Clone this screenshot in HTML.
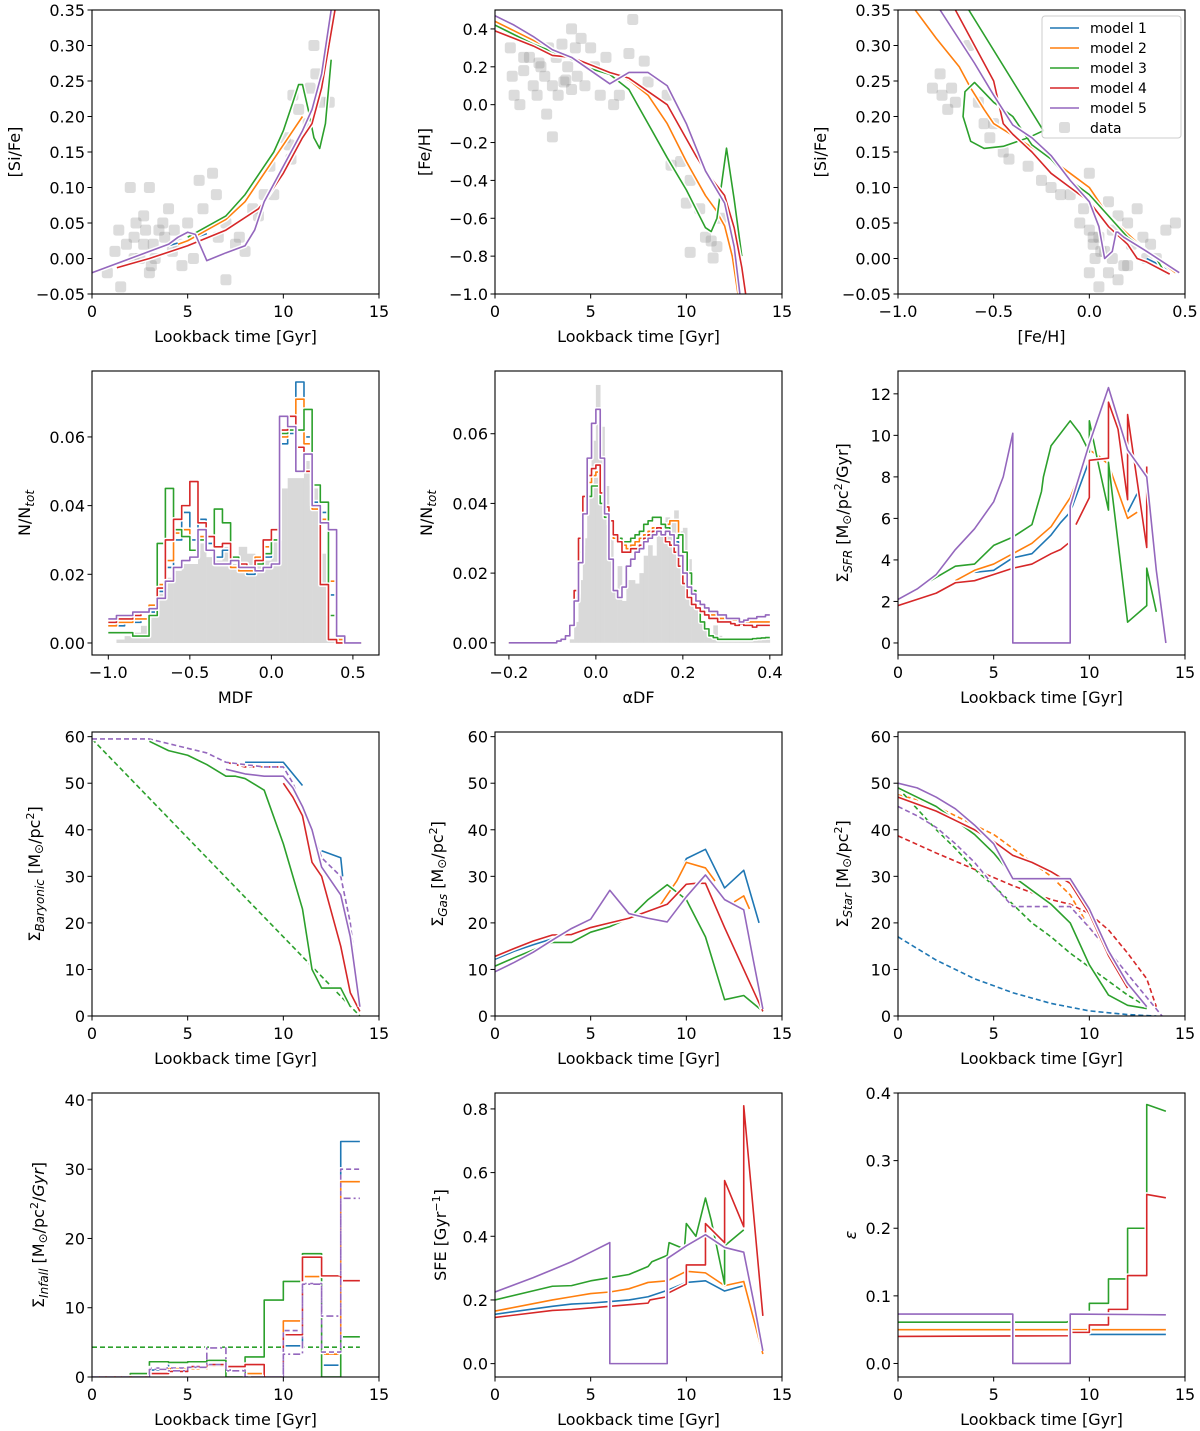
<!DOCTYPE html>
<html><head><meta charset="utf-8"><style>
html,body{margin:0;padding:0;background:#fff;}
svg{display:block;font-family:"DejaVu Sans","Liberation Sans",sans-serif;}
</style></head><body>
<svg id="fig" xmlns="http://www.w3.org/2000/svg" width="1200" height="1431" viewBox="0 0 1200 1431"></svg>
<script>
// ---------- DATA ----------
const modelNames=['model 1','model 2','model 3','model 4','model 5'];
const modelColors=['#1f77b4','#ff7f0e','#2ca02c','#d62728','#9467bd'];
// Panel 1: [Si/Fe] vs lookback time
const p1DataAge=[1.5,0.8,1.2,1.4,1.8,2,2.3,2.2,2.5,2.7,2.8,3,3.0,3.2,3.3,3.5,3.7,3.8,4,4.2,4.5,4.7,5,5.3,5.6,5.8,6.3,6.5,6.6,7,7,7.5,7.7,8,8.4,8.7,9,9.3,9.5,10.1,10.3,10.5,10.8,11.3,11.4,11.6,11.7,12,12.4,10.4,2.7,3.1,2.2,4.3];
const p1DataSiFe=[-0.04,-0.02,0.01,0.04,0.02,0.1,0.05,0.03,0.0,0.06,0.04,0.1,-0.02,0.02,0.0,0.04,0.05,0.03,0.07,0.01,0.02,-0.01,0.05,0.0,0.11,0.07,0.12,0.09,0.03,0.05,-0.03,0.02,0.03,0.01,0.07,0.06,0.09,0.13,0.09,0.17,0.16,0.23,0.21,0.19,0.24,0.30,0.26,0.22,0.22,0.14,0.02,-0.01,0.0,0.04];
const p1T=[[4,5,6],[4.5,5,6,7,8,9,10,11],[5,6,7,8,9,9.5,10,10.5,10.8,11,11.3,11.6,11.9,12.2,12.5],[1.3,3,5,7,8.7,9,10,11,11.5,12,12.7],[0,1,2,3,4,4.5,5,5.4,6,7,8,8.5,9,10,11,11.5,12,12.5]];
const p1Y=[[0.018,0.026,0.035],[0.02,0.025,0.04,0.055,0.08,0.12,0.16,0.2],[0.03,0.045,0.06,0.09,0.13,0.15,0.18,0.22,0.245,0.245,0.21,0.17,0.155,0.19,0.28],[-0.013,0.0,0.018,0.04,0.07,0.08,0.12,0.17,0.19,0.24,0.35],[-0.02,-0.01,0.0,0.01,0.02,0.03,0.037,0.034,-0.003,0.008,0.018,0.04,0.08,0.13,0.18,0.21,0.26,0.35]];
// Panel 2: [Fe/H] vs lookback time
const p2DataAge=[0.8,0.9,1,1.3,1.5,1.8,2,2.2,2.4,2.6,2.8,3,3,2.7,3.2,3.3,3.5,3.6,3.8,4,4.2,4.3,4.5,4.7,5,5.2,5.5,5.8,6.2,6.5,7,7.2,7.8,8,9,9.2,9.7,10.2,10,10.7,11,11.3,11.6,11.4,10.2,11.8,1.5,3.7,4,2.3];
const p2DataFeH=[0.3,0.15,0.05,0.0,0.18,0.25,0.1,0.05,0.2,0.15,0.3,0.1,-0.17,-0.05,0.25,0.05,0.32,0.12,0.2,0.08,0.3,0.15,0.35,0.1,0.3,0.2,0.05,0.25,0.0,0.05,0.27,0.45,0.23,0.12,0.05,-0.32,-0.3,-0.4,-0.52,-0.55,-0.7,-0.72,-0.75,-0.81,-0.78,-0.6,0.25,0.13,0.4,0.22];
const p2T=[[0,3,6],[0,1,2,3,4,5,6,7,8,9,10,11,11.5,12,12.4,12.7],[0,1,2,3,4,5,6,7,8,9,10,10.5,11,11.3,11.6,11.8,12.1,12.5,12.9],[0,1,2,3,4,5,6,7,8,9,10,10.5,11,12,12.5,12.9,13.1],[0,1,2,3,4,5,6,7,8,9,10,11,12,12.5,12.8]];
const p2Y=[[0.43,0.28,0.16],[0.44,0.39,0.34,0.29,0.25,0.2,0.17,0.13,0.05,-0.1,-0.3,-0.48,-0.55,-0.64,-0.8,-1.0],[0.42,0.37,0.32,0.28,0.24,0.19,0.16,0.08,-0.1,-0.28,-0.45,-0.55,-0.65,-0.67,-0.6,-0.45,-0.23,-0.5,-0.8],[0.39,0.35,0.31,0.26,0.25,0.21,0.17,0.14,0.07,0.0,-0.18,-0.27,-0.35,-0.48,-0.65,-0.86,-1.0],[0.47,0.42,0.36,0.29,0.25,0.18,0.11,0.17,0.17,0.1,-0.1,-0.35,-0.52,-0.75,-1.0]];
// Panel 3: [Si/Fe] vs [Fe/H]
const p3DataFeH=[-0.82,-0.78,-0.77,-0.74,-0.72,-0.7,-0.63,-0.58,-0.55,-0.52,-0.5,-0.45,-0.42,-0.32,-0.25,-0.2,-0.15,-0.1,0.0,-0.03,-0.05,0.0,0.02,0.05,0.03,0.08,0.1,0.05,0.12,0.15,0.2,0.25,0.22,0.18,0.28,0.3,0.32,0.35,0.4,0.45,0.1,0.15,0.02,0.06,0.12,0.0,0.2];
const p3DataSiFe=[0.24,0.26,0.23,0.21,0.24,0.22,0.3,0.22,0.19,0.17,0.19,0.15,0.14,0.13,0.11,0.10,0.09,0.09,0.12,0.07,0.05,0.04,0.02,0.03,0.0,0.01,-0.02,-0.04,0.04,0.06,0.05,0.07,0.02,-0.01,0.03,0.0,0.02,0.0,0.04,0.05,0.08,-0.03,0.03,0.01,0.0,-0.02,-0.01];
const p3X=[[0.3,0.45],[-0.91,-0.8,-0.68,-0.62,-0.55,-0.5,-0.2,-0.1,0.0,0.1,0.2,0.3,0.45],[-0.63,-0.24,-0.32,-0.45,-0.55,-0.62,-0.66,-0.65,-0.6,-0.5,-0.4,-0.3,-0.2,-0.1,0.0,0.1,0.2,0.35,0.4],[-0.7,-0.6,-0.5,-0.45,-0.4,-0.3,-0.2,-0.1,0.0,0.1,0.2,0.25,0.3,0.42],[-0.78,-0.6,-0.5,-0.4,-0.3,-0.2,-0.1,0.0,0.05,0.08,0.12,0.14,0.15,0.18,0.3,0.47]];
const p3Y=[[0.0,-0.02],[0.35,0.31,0.27,0.24,0.21,0.19,0.14,0.12,0.1,0.06,0.035,0.01,-0.02],[0.35,0.18,0.17,0.158,0.155,0.165,0.2,0.235,0.248,0.22,0.2,0.16,0.14,0.11,0.09,0.06,0.03,0.0,-0.022],[0.35,0.3,0.25,0.19,0.175,0.15,0.12,0.1,0.08,0.045,0.02,0.0,-0.005,-0.022],[0.35,0.275,0.23,0.188,0.17,0.145,0.11,0.08,0.045,0.0,0.01,0.037,0.037,0.03,0.01,-0.02]];
// Panel 4: MDF histograms (bins of 0.05 starting at -1.0)
const mdfStart=-1.0, mdfWidth=0.05;
const mdfData=[0,0.001,0.002,0.003,0.005,0.011,0.016,0.019,0.021,0.023,0.023,0.029,0.025,0.024,0.028,0.023,0.028,0.026,0.025,0.024,0.030,0.045,0.048,0.048,0.053,0.045,0.026,0.001,0,0,0];
const mdfModels=[
[0.005,0.005,0.006,0.006,0.007,0.009,0.015,0.022,0.030,0.038,0.030,0.036,0.029,0.025,0.027,0.022,0.021,0.020,0.023,0.025,0.030,0.058,0.061,0.076,0.060,0.041,0.038,0.014,0.001,0,0],
[0.005,0.006,0.006,0.007,0.007,0.011,0.017,0.024,0.032,0.033,0.027,0.031,0.027,0.023,0.023,0.022,0.021,0.021,0.025,0.028,0.033,0.060,0.063,0.071,0.058,0.039,0.036,0.018,0.001,0,0],
[0.003,0.003,0.003,0.002,0.002,0.008,0.029,0.045,0.033,0.031,0.027,0.030,0.031,0.039,0.035,0.025,0.023,0.022,0.023,0.026,0.030,0.061,0.062,0.062,0.068,0.046,0.041,0.008,0.002,0,0],
[0.006,0.007,0.007,0.008,0.009,0.010,0.016,0.030,0.036,0.040,0.047,0.035,0.031,0.028,0.029,0.024,0.023,0.022,0.024,0.030,0.033,0.062,0.066,0.057,0.050,0.040,0.017,0.001,0,0,0],
[0.007,0.008,0.008,0.009,0.009,0.010,0.013,0.018,0.022,0.024,0.025,0.033,0.027,0.023,0.023,0.024,0.022,0.022,0.021,0.022,0.023,0.066,0.063,0.050,0.055,0.040,0.035,0.033,0.002,0,0]];
// Panel 5: alpha DF histograms (bins of 0.01 starting at -0.2)
const adfStart=-0.2, adfWidth=0.01;
const adfData=[0,0,0,0,0,0,0,0,0,0, 0,0,0,0,0.001,0.006,0.018,0.030,0.045,0.058,0.074,0.062,0.045,0.030,0.015,0.022,0.012,0.018,0.018,0.017,0.020,0.025,0.028,0.025,0.033,0.034,0.036,0.035,0.038,0.032,0.033,0.024,0.015,0.010,0.006,0.004,0.002,0.005,0.002,0.001,0.001,0.001,0.001,0.001,0.001,0.001,0.001,0.001,0.001,0.001];
const adfModels=[
[0,0,0,0,0,0,0,0,0,0, 0,0.0005,0.001,0.002,0.005,0.014,0.028,0.040,0.046,0.048,0.048,0.042,0.038,0.034,0.030,0.029,0.028,0.027,0.027,0.028,0.029,0.030,0.031,0.031,0.032,0.033,0.033,0.031,0.029,0.025,0.020,0.015,0.012,0.010,0.009,0.008,0.007,0.007,0.006,0.006,0.006,0.0055,0.0055,0.005,0.005,0.005,0.005,0.005,0.005,0.005],
[0,0,0,0,0,0,0,0,0,0, 0,0.0005,0.001,0.002,0.005,0.014,0.028,0.040,0.046,0.048,0.049,0.042,0.039,0.035,0.030,0.029,0.028,0.027,0.028,0.029,0.030,0.031,0.032,0.033,0.033,0.034,0.034,0.035,0.035,0.030,0.024,0.018,0.014,0.012,0.010,0.009,0.008,0.008,0.007,0.007,0.007,0.0065,0.0065,0.006,0.006,0.006,0.006,0.006,0.006,0.006],
[0,0,0,0,0,0,0,0,0,0, 0,0.0005,0.001,0.002,0.005,0.013,0.026,0.037,0.042,0.045,0.045,0.040,0.036,0.034,0.031,0.030,0.029,0.029,0.030,0.031,0.032,0.034,0.035,0.036,0.036,0.034,0.033,0.031,0.030,0.031,0.026,0.020,0.015,0.011,0.006,0.004,0.002,0.0015,0.001,0.001,0.001,0.001,0.001,0.001,0.001,0.001,0.0012,0.0013,0.0014,0.0015],
[0,0,0,0,0,0,0,0,0,0, 0,0.0005,0.001,0.002,0.005,0.015,0.030,0.042,0.048,0.050,0.051,0.043,0.039,0.035,0.031,0.029,0.026,0.026,0.027,0.027,0.028,0.030,0.031,0.032,0.033,0.031,0.029,0.028,0.026,0.022,0.017,0.013,0.011,0.010,0.009,0.008,0.007,0.007,0.006,0.006,0.006,0.0055,0.005,0.0055,0.005,0.005,0.0045,0.005,0.005,0.005],
[0,0,0,0,0,0,0,0,0,0, 0,0.0005,0.001,0.002,0.005,0.012,0.023,0.037,0.053,0.063,0.067,0.053,0.037,0.024,0.015,0.013,0.016,0.022,0.024,0.026,0.027,0.029,0.030,0.031,0.032,0.031,0.032,0.031,0.028,0.025,0.020,0.016,0.014,0.012,0.011,0.010,0.009,0.009,0.008,0.008,0.007,0.007,0.007,0.006,0.0065,0.007,0.007,0.0075,0.0075,0.008]];
// Panel 6: SFR (null = gap)
const p6T=[[4,5,6,7,8,8.5,9,10,11,null,12,12.5],[3,4,5,6,7,8,8.5,9,10,10.5,11,12,12.5],[1.7,3,4,5,6,7,7.5,7.6,8,9,9.5,10,10,10.5,11,11,12,13,13,13.5],[0,1,2,3,4,5,6,7,8,8.5,8.9,null,9.3,10,10,11,11,11.5,12,12,13,13],[0,1,2,3,4,5,5.5,6,6,9,9,10,11,12,13,13.5,14]];
const p6Y=[[3.4,3.5,4.1,4.3,5.2,5.8,6.3,8.8,8.8,null,6.3,7.2],[3.0,3.5,3.8,4.3,4.8,5.6,6.3,7.0,9.3,9.0,8.6,6.0,6.3],[3.0,3.7,3.8,4.7,5.1,5.7,7.3,8.0,9.5,10.7,10.1,9.2,10.7,8.5,6.4,8.7,1.0,1.8,3.6,1.5],[1.8,2.1,2.4,2.9,3.0,3.3,3.6,3.8,4.3,4.5,4.8,null,5.7,7,8.8,8.9,11.6,10.3,6.9,11,4.6,8.5],[2.1,2.6,3.3,4.5,5.5,6.8,8.0,10.1,0,0,6.6,9.6,12.3,9.3,8.0,3.5,0]];
// Panel 7: baryonic
const p7Solid=[{m:0,t:[8,9,10,10.5,11,null,12,13,13.1],y:[54.5,54.5,54.5,52,49.5,null,35.5,34,30]},{m:2,t:[3,4,5,6,7,7.5,8,9,10,11,11.5,12,13,13.5],y:[59,57,56,54,51.5,51.5,51,48.5,37,23,10,6,6,2]},{m:3,t:[10,10.5,11,11.5,12,13,13.5,14],y:[50,47,43,33,30,15,5,1]},{m:4,t:[7,7.5,8,9,10,10.5,11,11.5,12,13,13.5,14],y:[53,52.5,52,51.5,51.5,49,45,40,32,26,17,2]}];
const p7Dashed=[{m:2,t:[0,14],y:[59.5,0]},{m:3,t:[7,8,9,10],y:[54.5,53.5,53.5,53.5]},{m:1,t:[8.6,9.1,null,12,12.4],y:[53.5,53.5,null,32,30]},{m:4,t:[0,1,2,3,4,5,6,7,8,9,10,10.5,11,11.5,12,13,13.5,14],y:[59.5,59.5,59.5,59.5,58.5,57.5,56.5,54.5,54,53.5,53.5,50,45,40,34,30,20,2]}];
// Panel 8: gas
const p8T=[[0,1,2,3,null,9.7,10,11,12,13,13.8],[8.5,9,9.5,10,11,11.5,null,12.5,13,13.3],[0,1,2,3,4,5,6,7,8,9,10,11,12,13,14],[0,1,2,3,4,5,6,7,8,9,10,10.5,11,12,13,14],[0,1,2,3,4,5,6,7,8,9,10,11,12,13,13.5,14]];
const p8Y=[[12.2,13.9,15.3,16.6,null,31,33.8,35.8,27.5,31.3,20],[23,26,29,33,31.8,29,null,24.5,25.8,23],[10.7,12.5,14.2,15.8,15.8,18,19.2,21,25,28.2,25,17,3.5,4.4,1],[12.8,14.5,16.1,17.4,17.5,19,20,21,22.5,24,28.3,28.5,28.5,19,10,1],[9.5,11.5,13.7,16.3,18.8,20.8,27,22,21,20.2,25.6,30.3,25,22.8,12,1.5]];
// Panel 9: stars
const p9Solid=[{m:2,t:[0,1,2,3,4,5,6,7,8,9,10,11,12,13],y:[49,47,45,42,39,35,30,27,24,20,11,4.5,2.3,1.6]},{m:3,t:[0,1,2,3,4,5,6,7,8,9,10,11,12],y:[47,45.5,44,42,40,37.5,34.5,33,31,28.5,22,13,6]},{m:4,t:[0,1,2,3,4,5,6,7,8,9,10,11,12,13],y:[50,49,47,44.5,41,37,29.5,29.5,29.5,29.5,23,14,7,2]}];
const p9Dashed=[{m:0,t:[0,2,4,6,8,10,12,13.5],y:[17,12,8,5,2.7,1.1,0.3,0]},{m:1,t:[0,1,2,3,4,5,6,7,8,9,10,11],y:[47.5,46.5,45,43,41,39,36,33,30,26,19,14]},{m:2,t:[0,1,2,3,4,5,6,7,8,9,10,11,12,13],y:[49,44.5,40,36,31.5,28,24,20,17,13.5,10.5,7.5,4.5,2]},{m:3,t:[0,2,4,6,8,9,10,11,12,13,13.5],y:[38.7,35,31.5,28,25,24,22,18.5,13.5,8,2]},{m:4,t:[0,1,2,3,4,5,6,7,8,9,10,11,12,13,13.8],y:[45,43,40.5,37,33,28,23.5,23.5,23.5,23.5,19,14,9,4,0]}];
// Panel 10: infall (1-Gyr bins from 0 to 14)
const infallConst=4.3;
const infallModels=[[0,0,0,1.0,2.1,1.3,1.5,1.2,0.6,0,4.5,14.5,1.7,34],[0,0,0,0.5,1.2,1.2,1.6,1.4,0.5,0,8.1,14.5,3.3,28.2],[0,0,0.5,2.2,2.1,2.2,2.4,0,2.9,11.1,13.8,17.8,0,5.8],[0,0,0,0.5,0.8,1.5,1.8,1.5,1.8,0,6.1,17.3,14.6,13.9],[0,0,0,1.3,1.3,1.5,1.8,1.0,0,0,6.7,13.5,3.6,30]];
const infallAlt=[0,0,0,1.1,0.9,1.4,4.2,0.9,0,0,3.3,13.4,8.8,25.8];
// Panel 11: SFE
const p11T=[[0,3,4,5,6,7,8,9,10,11,12,13],[0,3,4,5,6,7,8,9,10,11,12,13,14],[0,3,4,5,6,7,8,8.2,9,9.1,9.9,10,10.5,11,11.3,12,12,13],[0,3,4,5,6,7,8,8.1,9,9,10,10,11,11,12,12,13,13,14],[0,2,3,4,5,6,6,9,9,10,11,12,13,13.5,14]];
const p11Y=[[0.155,0.18,0.187,0.19,0.195,0.2,0.21,0.23,0.255,0.26,0.228,0.245],[0.165,0.2,0.21,0.22,0.225,0.235,0.255,0.26,0.29,0.285,0.245,0.258,0.03],[0.2,0.243,0.245,0.26,0.27,0.28,0.305,0.32,0.34,0.38,0.36,0.44,0.4,0.52,0.45,0.25,0.37,0.42],[0.145,0.167,0.17,0.175,0.18,0.185,0.19,0.2,0.21,0.22,0.25,0.31,0.31,0.44,0.38,0.575,0.43,0.81,0.15],[0.225,0.27,0.295,0.32,0.35,0.38,0,0,0.33,0.37,0.405,0.365,0.35,0.2,0.04]];
// Panel 12: epsilon
const p12T=[[10,14],[0,14],[0,8.8,9,null,10,10,11,11,12,12,13,13,14],[0,9,9,10,10,11,11,12,12,13,13,14],[0,6,6,9,9,14]];
const p12Y=[[0.043,0.043],[0.05,0.05],[0.061,0.061,0.063,null,0.078,0.089,0.089,0.125,0.125,0.2,0.2,0.383,0.373],[0.04,0.041,0.046,0.046,0.057,0.057,0.08,0.08,0.13,0.13,0.25,0.245],[0.073,0.073,0,0,0.073,0.072]];

// ---------- DRAWING ----------
const NS='http://www.w3.org/2000/svg';
const svg=document.getElementById('fig');
function el(tag,parent,name){
  const e=document.createElementNS(NS,tag);
  
  
  parent.appendChild(e);
  return e;
}
const W=287,H=284;
let clipN=0;
function panel(name,L,T,xlim,ylim,xt,xtl,yt,ytl,xlabel,ylabelParts,ylx){
  const g=el('g',svg,name);
  const sx=v=>L+(v-xlim[0])/(xlim[1]-xlim[0])*W;
  const sy=v=>T+H-(v-ylim[0])/(ylim[1]-ylim[0])*H;
  const cid='clip'+(clipN++);
  const cp=el('clipPath',g,name+'-clip'); cp.setAttribute('id',cid);
  const cr=el('rect',cp,name+'-clip-rect'); cr.setAttribute('x',L);cr.setAttribute('y',T);cr.setAttribute('width',W);cr.setAttribute('height',H);
  const plot=el('g',g,name+'-plot-area'); plot.setAttribute('clip-path','url(#'+cid+')');
  const axes=el('g',g,name+'-axes');
  const frame=el('rect',axes,name+'-frame');
  frame.setAttribute('x',L);frame.setAttribute('y',T);frame.setAttribute('width',W);frame.setAttribute('height',H);
  frame.setAttribute('fill','none');frame.setAttribute('stroke','#000');frame.setAttribute('stroke-width','1.1');
  xt.forEach((v,i)=>{
    const x=sx(v);
    const tk=el('line',axes,'x-tick');
    tk.setAttribute('x1',x);tk.setAttribute('x2',x);tk.setAttribute('y1',T+H);tk.setAttribute('y2',T+H+4.5);tk.setAttribute('stroke','#000');
    const tx=el('text',axes,'x-tick-label');
    tx.setAttribute('x',x);tx.setAttribute('y',T+H+23);tx.setAttribute('text-anchor','middle');tx.setAttribute('font-size','16');
    tx.textContent=xtl[i];
  });
  yt.forEach((v,i)=>{
    const y=sy(v);
    const tk=el('line',axes,'y-tick');
    tk.setAttribute('x1',L-4.5);tk.setAttribute('x2',L);tk.setAttribute('y1',y);tk.setAttribute('y2',y);tk.setAttribute('stroke','#000');
    const tx=el('text',axes,'y-tick-label');
    tx.setAttribute('x',L-7);tx.setAttribute('y',y+6);tx.setAttribute('text-anchor','end');tx.setAttribute('font-size','16');
    tx.textContent=ytl[i];
  });
  const xl=el('text',axes,'x-axis-title');
  xl.setAttribute('x',L+W/2);xl.setAttribute('y',T+H+48);xl.setAttribute('text-anchor','middle');xl.setAttribute('font-size','16');
  xl.textContent=xlabel;
  const yl=el('text',axes,'y-axis-title');
  const cy=T+H/2;
  yl.setAttribute('transform','translate('+ylx+','+cy+') rotate(-90)');
  yl.setAttribute('text-anchor','middle');yl.setAttribute('font-size','16');
  ylabelParts.forEach(p=>{
    const ts=el('tspan',yl,'y-axis-title-part');
    if(p.s) ts.setAttribute('font-size',p.s);
    if(p.dy) ts.setAttribute('dy',p.dy);
    if(p.i) ts.setAttribute('font-style','italic');
    ts.textContent=p.t;
  });
  return {plot,sx,sy};
}
function pathD(P,xs,ys){
  let d='',pen=false;
  for(let i=0;i<xs.length;i++){
    if(xs[i]===null||ys[i]===null){pen=false;continue;}
    d+=(pen?'L':'M')+P.sx(xs[i]).toFixed(2)+','+P.sy(ys[i]).toFixed(2);
    pen=true;
  }
  return d;
}
function line(P,xs,ys,color,dash,name){
  const d=pathD(P,xs,ys);
  const h=el('path',P.plot,name+'-halo');
  h.setAttribute('d',d);h.setAttribute('fill','none');h.setAttribute('stroke','#fff');h.setAttribute('stroke-width','4.5');h.setAttribute('stroke-linejoin','round');
  if(dash) h.setAttribute('stroke-dasharray',dash);
  const p=el('path',P.plot,name);
  p.setAttribute('d',d);p.setAttribute('fill','none');p.setAttribute('stroke',color);p.setAttribute('stroke-width','1.6');p.setAttribute('stroke-linejoin','round');
  if(dash) p.setAttribute('stroke-dasharray',dash);
}
function stepLine(P,start,width,vals,color,dash,name){
  const xs=[],ys=[];
  vals.forEach((v,i)=>{xs.push(start+i*width);ys.push(v);xs.push(start+(i+1)*width);ys.push(v);});
  line(P,xs,ys,color,dash,name);
}
function histFill(P,start,width,vals,name){
  vals.forEach((v,i)=>{
    if(v<=0) return;
    const r=el('rect',P.plot,name);
    const x0=P.sx(start+i*width),x1=P.sx(start+(i+1)*width);
    r.setAttribute('x',x0);r.setAttribute('width',x1-x0+0.3);r.setAttribute('y',P.sy(v));r.setAttribute('height',P.sy(0)-P.sy(v));
    r.setAttribute('fill','#d9d9d9');
  });
}
function scatter(P,xs,ys,name){
  xs.forEach((x,i)=>{
    const r=el('rect',P.plot,name);
    r.setAttribute('x',P.sx(x)-5.5);r.setAttribute('y',P.sy(ys[i])-5.5);r.setAttribute('width',11);r.setAttribute('height',11);r.setAttribute('rx',2.5);
    r.setAttribute('fill','#8a8a8a');r.setAttribute('fill-opacity','0.3');
  });
}
const cols=[92,495,898], rows=[10,371,732,1093];
const tT=[0,5,10,15], tTL=['0','5','10','15'];
const LB='Lookback time [Gyr]';
const sub=(t)=>({t:t,s:'12',dy:'4',i:true});
// Panel 1
let P=panel('panel-sife-vs-time',cols[0],rows[0],[0,15],[-0.05,0.35],tT,tTL,[-0.05,0,0.05,0.1,0.15,0.2,0.25,0.3,0.35],['−0.05','0.00','0.05','0.10','0.15','0.20','0.25','0.30','0.35'],LB,[{t:'[Si/Fe]'}],20);
scatter(P,p1DataAge,p1DataSiFe,'data-point');
p1T.forEach((t,m)=>line(P,t,p1Y[m],modelColors[m],null,'model-'+(m+1)+'-line'));
// Panel 2
P=panel('panel-feh-vs-time',cols[1],rows[0],[0,15],[-1.0,0.5],tT,tTL,[-1,-0.8,-0.6,-0.4,-0.2,0,0.2,0.4],['−1.0','−0.8','−0.6','−0.4','−0.2','0.0','0.2','0.4'],LB,[{t:'[Fe/H]'}],430);
scatter(P,p2DataAge,p2DataFeH,'data-point');
p2T.forEach((t,m)=>line(P,t,p2Y[m],modelColors[m],null,'model-'+(m+1)+'-line'));
// Panel 3
P=panel('panel-sife-vs-feh',cols[2],rows[0],[-1,0.5],[-0.05,0.35],[-1,-0.5,0,0.5],['−1.0','−0.5','0.0','0.5'],[-0.05,0,0.05,0.1,0.15,0.2,0.25,0.3,0.35],['−0.05','0.00','0.05','0.10','0.15','0.20','0.25','0.30','0.35'],'[Fe/H]',[{t:'[Si/Fe]'}],826);
scatter(P,p3DataFeH,p3DataSiFe,'data-point');
p3X.forEach((x,m)=>line(P,x,p3Y[m],modelColors[m],null,'model-'+(m+1)+'-line'));
// legend
const lg=el('g',svg,'legend');
const lb=el('rect',lg,'legend-box');
lb.setAttribute('x',1042);lb.setAttribute('y',16);lb.setAttribute('width',139);lb.setAttribute('height',122);lb.setAttribute('rx',3);
lb.setAttribute('fill','#fff');lb.setAttribute('fill-opacity','0.85');lb.setAttribute('stroke','#ccc');
modelNames.forEach((n,i)=>{
  const y=28+i*20;
  const ln=el('line',lg,'legend-entry-line');
  ln.setAttribute('x1',1050);ln.setAttribute('x2',1079);ln.setAttribute('y1',y);ln.setAttribute('y2',y);ln.setAttribute('stroke',modelColors[i]);ln.setAttribute('stroke-width','1.6');
  const tx=el('text',lg,'legend-entry-label');
  tx.setAttribute('x',1090);tx.setAttribute('y',y+5);tx.setAttribute('font-size','14');
  tx.textContent=n;
});
const ld=el('rect',lg,'legend-data-marker');
ld.setAttribute('x',1059);ld.setAttribute('y',122);ld.setAttribute('width',11);ld.setAttribute('height',11);ld.setAttribute('rx',2.5);ld.setAttribute('fill','#8a8a8a');ld.setAttribute('fill-opacity','0.3');
const ldt=el('text',lg,'legend-entry-label');
ldt.setAttribute('x',1090);ldt.setAttribute('y',133);ldt.setAttribute('font-size','14');ldt.textContent='data';
// Panel 4: MDF
P=panel('panel-mdf',cols[0],rows[1],[-1.1,0.66],[-0.0035,0.0792],[-1,-0.5,0,0.5],['−1.0','−0.5','0.0','0.5'],[0,0.02,0.04,0.06],['0.00','0.02','0.04','0.06'],'MDF',[{t:'N/N'},{t:'tot',s:'12',dy:'4',i:true}],30);
histFill(P,mdfStart,mdfWidth,mdfData,'data-histogram-bar');
mdfModels.forEach((v,m)=>stepLine(P,mdfStart,mdfWidth,v,modelColors[m],null,'model-'+(m+1)+'-mdf'));
// Panel 5: alpha DF
P=panel('panel-alpha-df',cols[1],rows[1],[-0.232,0.428],[-0.0035,0.078],[-0.2,0,0.2,0.4],['−0.2','0.0','0.2','0.4'],[0,0.02,0.04,0.06],['0.00','0.02','0.04','0.06'],'αDF',[{t:'N/N'},{t:'tot',s:'12',dy:'4',i:true}],432);
histFill(P,adfStart,adfWidth,adfData,'data-histogram-bar');
adfModels.forEach((v,m)=>stepLine(P,adfStart,adfWidth,v,modelColors[m],null,'model-'+(m+1)+'-adf'));
// Panel 6: SFR
P=panel('panel-sfr',cols[2],rows[1],[0,15],[-0.58,13.1],tT,tTL,[0,2,4,6,8,10,12],['0','2','4','6','8','10','12'],LB,[{t:'Σ'},sub('SFR'),{t:' [M',dy:'-4'},{t:'⊙',s:'12',dy:'3'},{t:'/pc',dy:'-3'},{t:'2',s:'11',dy:'-6'},{t:'/Gyr]',dy:'6'}],848);
p6T.forEach((t,m)=>line(P,t,p6Y[m],modelColors[m],null,'model-'+(m+1)+'-sfr'));
// Panel 7: baryonic
const msun=(s)=>[{t:'Σ'},sub(s),{t:' [M',dy:'-4'},{t:'⊙',s:'12',dy:'3'},{t:'/pc',dy:'-3'},{t:'2',s:'11',dy:'-6'},{t:']',dy:'6'}];
const y60=[0,10,20,30,40,50,60], y60l=['0','10','20','30','40','50','60'];
P=panel('panel-baryonic',cols[0],rows[2],[0,15],[0,61],tT,tTL,y60,y60l,LB,msun('Baryonic'),40);
p7Dashed.forEach(s=>line(P,s.t,s.y,modelColors[s.m],'5,3','model-'+(s.m+1)+'-baryonic-dashed'));
p7Solid.forEach(s=>line(P,s.t,s.y,modelColors[s.m],null,'model-'+(s.m+1)+'-baryonic'));
// Panel 8: gas
P=panel('panel-gas',cols[1],rows[2],[0,15],[0,61],tT,tTL,y60,y60l,LB,msun('Gas'),443);
p8T.forEach((t,m)=>line(P,t,p8Y[m],modelColors[m],null,'model-'+(m+1)+'-gas'));
// Panel 9: stars
P=panel('panel-stars',cols[2],rows[2],[0,15],[0,61],tT,tTL,y60,y60l,LB,msun('Star'),848);
p9Dashed.forEach(s=>line(P,s.t,s.y,modelColors[s.m],'5,3','model-'+(s.m+1)+'-stars-dashed'));
p9Solid.forEach(s=>line(P,s.t,s.y,modelColors[s.m],null,'model-'+(s.m+1)+'-stars'));
// Panel 10: infall
P=panel('panel-infall',cols[0],rows[3],[0,15],[0,41],tT,tTL,[0,10,20,30,40],['0','10','20','30','40'],LB,[{t:'Σ'},sub('Infall'),{t:' [M',dy:'-4'},{t:'⊙',s:'12',dy:'3'},{t:'/pc',dy:'-3'},{t:'2',s:'11',dy:'-6'},{t:'/',dy:'6'},{t:'Gyr',i:true},{t:']'}],44);
line(P,[0,14],[infallConst,infallConst],modelColors[2],'5,3','model-3-infall-constant');
infallModels.forEach((v,m)=>stepLine(P,0,1,v,modelColors[m],m===4?'5,3':null,'model-'+(m+1)+'-infall'));
stepLine(P,0,1,infallAlt,modelColors[4],'7,3,2,3','model-5-infall-alt');
// Panel 11: SFE
P=panel('panel-sfe',cols[1],rows[3],[0,15],[-0.042,0.85],tT,tTL,[0,0.2,0.4,0.6,0.8],['0.0','0.2','0.4','0.6','0.8'],LB,[{t:'SFE [Gyr'},{t:'−1',s:'11',dy:'-6'},{t:']',dy:'6'}],446);
p11T.forEach((t,m)=>line(P,t,p11Y[m],modelColors[m],null,'model-'+(m+1)+'-sfe'));
// Panel 12: epsilon
P=panel('panel-epsilon',cols[2],rows[3],[0,15],[-0.02,0.4],tT,tTL,[0,0.1,0.2,0.3,0.4],['0.0','0.1','0.2','0.3','0.4'],LB,[{t:'ε',i:true}],856);
p12T.forEach((t,m)=>line(P,t,p12Y[m],modelColors[m],null,'model-'+(m+1)+'-epsilon'));
</script>
</body></html>
